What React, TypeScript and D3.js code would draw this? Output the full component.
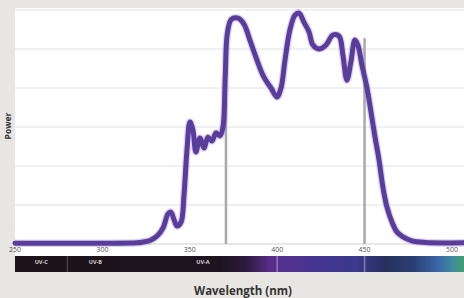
import * as d3 from "d3";

const W = 464;
const H = 298;

// spectrum: wavelength (nm) and relative power
const wavelengths = [
  250, 290, 320, 323.2, 327.2, 331.2, 334.7, 337.5, 339.2, 341, 342.7, 345, 346.7,
  348.4, 350.1, 351.8, 353.5, 355.8, 358.1, 360.4, 362.7, 365, 367.3, 369, 370.3,
  371.5, 373.8, 377.6, 381, 384.4, 388.4, 392.4, 396.5, 399.9, 402.2, 404.5, 407.3,
  410.2, 412.5, 415.3, 418.2, 420.5, 423.9, 427.9, 431.9, 435.4, 437.6, 439.9,
  442.2, 444.5, 446.2, 448.5, 451.4, 453.7, 456, 458.3, 460.5, 462.8, 465.7, 468.5,
  472, 477.1, 484.6, 506.9,
];
const power = [
  0.02, 0.02, 0.03, 0.05, 0.09, 0.2, 0.41, 0.77, 0.82, 0.62, 0.46, 0.56, 1.26,
  2.41, 3.13, 2.92, 2.36, 2.72, 2.46, 2.74, 2.64, 2.85, 2.77, 3.0, 4.3,
  5.4, 5.76, 5.79, 5.64, 5.23, 4.72, 4.28, 4.0, 3.77, 4.0, 4.72, 5.49,
  5.87, 5.92, 5.69, 5.44, 5.1, 5.0, 5.1, 5.36, 5.33, 4.85, 4.2,
  4.67, 5.23, 5.1, 4.59, 4.0, 3.38, 2.74, 2.15, 1.46, 0.95, 0.56, 0.31,
  0.18, 0.08, 0.04, 0.03,
];

const xTicks = [250, 300, 350, 400, 450, 500];
const yGrid = [1, 2, 3, 4, 5, 6];
const markerLines = [370.7, 450];
const markerTops = [3.7, 5.28];

const bands = [
  { label: "UV-C", at: 265 },
  { label: "UV-B", at: 296 },
  { label: "UV-A", at: 357.5 },
];
const bandBorders = [280];

// colour stops of the visible-spectrum strip
const stripStops = [
  { nm: 250, color: "#1c1419" },
  { nm: 368, color: "#1d1420" },
  { nm: 382, color: "#2e1a3c" },
  { nm: 396, color: "#5a2c8a" },
  { nm: 405, color: "#54308e" },
  { nm: 425, color: "#433592" },
  { nm: 445, color: "#3b3a8c" },
  { nm: 462, color: "#27305e" },
  { nm: 478, color: "#2a3f72" },
  { nm: 492, color: "#3a66a8" },
  { nm: 500, color: "#3f88a0" },
  { nm: 507, color: "#40a070" },
];
const stripLines = [400, 450];

export default function App() {
  const x = d3.scaleLinear().domain([250, 506.9]).range([15, 464]);
  const y = d3.scaleLinear().domain([0, 6]).range([244, 10]);

  const pts: [number, number][] = wavelengths.map((w, i) => [w, power[i]]);
  const line = d3
    .line<[number, number]>()
    .x((d) => x(d[0]))
    .y((d) => y(d[1]))
    .curve(d3.curveCatmullRom.alpha(0.5));

  const x0 = x(250);
  const x1 = x(506.9);

  return (
    <svg
      width={W}
      height={H}
      style={{ position: "absolute", left: 0, top: 0, fontFamily: "'Open Sans', sans-serif" }}
    >
      <defs>
        <linearGradient id="strip" x1={x0} x2={x1} y1={0} y2={0} gradientUnits="userSpaceOnUse">
          {stripStops.map((s, i) => (
            <stop key={i} offset={(x(s.nm) - x0) / (x1 - x0)} stopColor={s.color} />
          ))}
        </linearGradient>
      </defs>
      <rect width={W} height={H} fill="#e8e6e2" />
      <rect x={x0} y={8} width={x1 - x0} height={248} fill="#ffffff" />

      {yGrid.map((v) => (
        <line key={v} x1={x0} x2={x1} y1={y(v)} y2={y(v)} stroke="#e2e2e2" strokeWidth={1} />
      ))}
      <line x1={x0} x2={x1} y1={y(0)} y2={y(0)} stroke="#cfcfcf" strokeWidth={1} />

      {markerLines.map((m, i) => (
        <line
          key={m}
          x1={x(m)}
          x2={x(m)}
          y1={y(markerTops[i])}
          y2={y(0)}
          stroke="#a9a9a9"
          strokeWidth={2.5}
        />
      ))}

      <path d={line(pts)!} fill="none" stroke="#9b7fd6" strokeWidth={7.5} strokeOpacity={0.35} strokeLinejoin="round" />
      <path d={line(pts)!} fill="none" stroke="#5a3d9a" strokeWidth={5} strokeLinejoin="round" strokeLinecap="round" />

      {xTicks.map((t) => (
        <text key={t} x={x(t)} y={252} textAnchor="middle" fontSize={7} fill="#555">
          {t}
        </text>
      ))}

      <rect x={x0} y={256} width={x1 - x0} height={16} fill="url(#strip)" />
      {bandBorders.map((b) => (
        <line key={b} x1={x(b)} x2={x(b)} y1={256} y2={272} stroke="#5a5358" strokeWidth={1} />
      ))}
      {stripLines.map((s) => (
        <line key={s} x1={x(s)} x2={x(s)} y1={256} y2={272} stroke="#b8a8d8" strokeWidth={1.5} strokeOpacity={0.6} />
      ))}
      {bands.map((b) => (
        <text
          key={b.label}
          x={x(b.at)}
          y={264}
          textAnchor="middle"
          fontSize={5.5}
          fontWeight="bold"
          fill="#d8d4d8"
        >
          {b.label}
        </text>
      ))}

      <text
        transform={`translate(11,${126}) rotate(-90)`}
        textAnchor="middle"
        fontSize={8.5}
        fontWeight="bold"
        fill="#333"
      >
        Power
      </text>
      <text x={243} y={295} textAnchor="middle" fontSize={11.5} fontWeight="bold" fill="#333">
        Wavelength (nm)
      </text>
    </svg>
  );
}
